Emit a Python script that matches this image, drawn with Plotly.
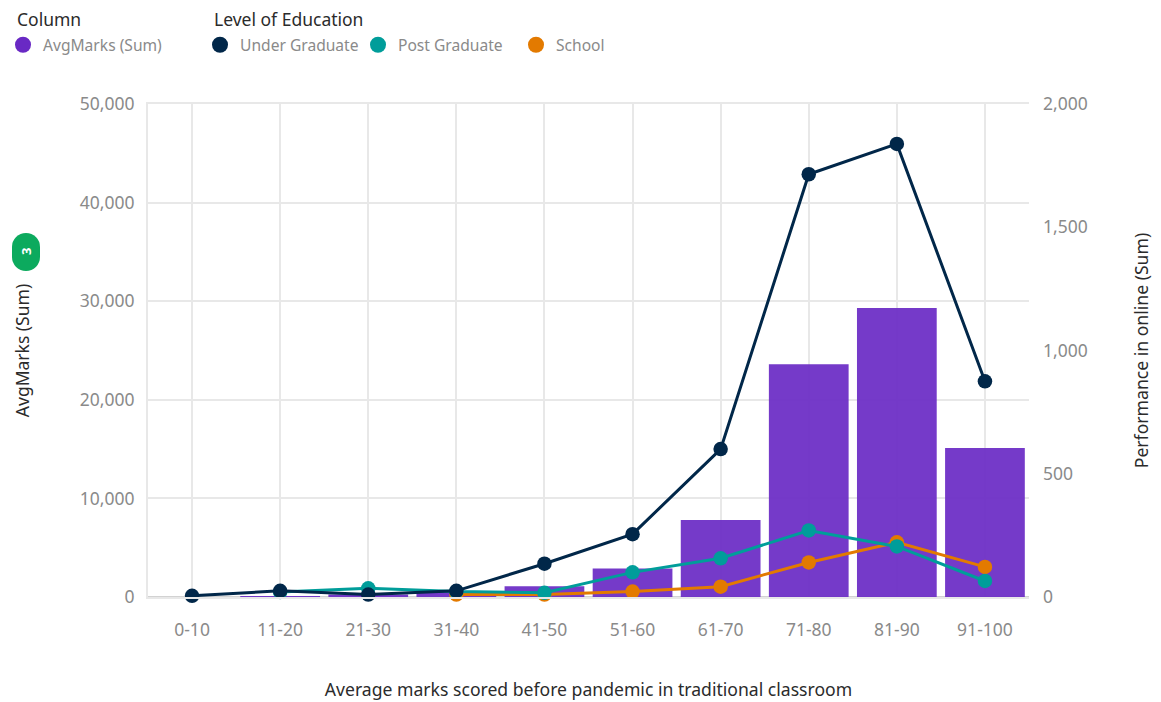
import plotly.graph_objects as go

categories = ["0-10", "11-20", "21-30", "31-40", "41-50", "51-60", "61-70", "71-80", "81-90", "91-100"]
avg_marks = [0, 100, 250, 500, 1100, 2900, 7800, 23600, 29300, 15100]
under_graduate = [5, 25, 10, 25, 135, 255, 600, 1715, 1838, 875]
post_graduate = [None, 20, 35, 22, 17, 100, 157, 270, 205, 65]
school = [None, None, None, 10, 10, 22, 42, 140, 222, 122]

PURPLE = "#6929c4"
NAVY = "#012749"
TEAL = "#009d9a"
ORANGE = "#e37a00"
GRID = "#e8e8e8"
TICK = "#8a8a8a"
DARK = "#2b2b2b"
GREEN = "#0caa5e"
FONT = "Noto Sans"
W, H = 1161, 702
L, R, T, B = 148, 132, 104, 105

fig = go.Figure()
fig.add_bar(x=categories, y=avg_marks, marker=dict(color=PURPLE, opacity=0.92, line_width=0),
            width=0.905, name="AvgMarks (Sum)", showlegend=False)

for name, vals, col in [("School", school, ORANGE),
                        ("Post Graduate", post_graduate, TEAL),
                        ("Under Graduate", under_graduate, NAVY)]:
    fig.add_scatter(x=categories, y=vals, mode="lines+markers", name=name, yaxis="y2",
                    line=dict(color=col, width=3), marker=dict(color=col, size=14.5),
                    showlegend=False, cliponaxis=False)

fig.add_scatter(x=[None], y=[None], mode="markers", name="AvgMarks (Sum)", legend="legend",
                marker=dict(color=PURPLE, size=18))
for name, col in [("Under Graduate", NAVY), ("Post Graduate", TEAL), ("School", ORANGE)]:
    fig.add_scatter(x=[None], y=[None], mode="markers", name=name, legend="legend2",
                    marker=dict(color=col, size=18))

legend_common = dict(orientation="h", xanchor="left", yanchor="top", y=0.96, yref="container",
                     xref="container", font=dict(size=15.6, color=TICK, family=FONT),
                     itemsizing="trace", bgcolor="rgba(0,0,0,0)", traceorder="normal",
                     entrywidthmode="pixels", tracegroupgap=0)

bx = (26 - L) / (W - L - R)
by = (H - B - 252) / (H - T - B)


def badge(kind, y0, y1):
    return dict(type=kind, xref="paper", yref="paper", xsizemode="pixel", ysizemode="pixel",
                xanchor=bx, yanchor=by, x0=-14, x1=14, y0=y0, y1=y1,
                fillcolor=GREEN, line_width=0, layer="above")


def legend_title(text, px):
    return dict(text=text, xref="paper", yref="paper", x=(px - L) / (W - L - R),
                y=(H - B - 19) / (H - T - B), xanchor="left", yanchor="middle", showarrow=False,
                font=dict(size=17.5, color=DARK, family=FONT))


fig.update_layout(
    width=W, height=H,
    margin=dict(l=L, r=R, t=T, b=B),
    paper_bgcolor="white", plot_bgcolor="white",
    font=dict(family=FONT, size=17.5, color=TICK),
    legend=dict(**legend_common, x=3 / W, entrywidth=130),
    legend2=dict(**legend_common, x=200 / W, entrywidth=113),
    xaxis=dict(title=dict(text="Average marks scored before pandemic in traditional classroom",
                          font=dict(size=17.6, color=DARK), standoff=44),
               type="category", categoryorder="array", categoryarray=categories,
               range=[-0.5, 9.5], showgrid=True, gridcolor=GRID, gridwidth=2,
               showline=True, linecolor=GRID, linewidth=2, mirror=True, ticks="",
               ticklabelstandoff=16, tickfont=dict(size=17.5, color=TICK), automargin=False),
    yaxis=dict(title=dict(text="AvgMarks (Sum)", font=dict(size=17.5, color=DARK), standoff=46),
               range=[0, 50000], tickvals=[0, 10000, 20000, 30000, 40000, 50000], tickformat=",",
               showgrid=True, gridcolor=GRID, gridwidth=2, zeroline=True,
               zerolinecolor="#d2d2d2", zerolinewidth=2,
               showline=True, linecolor=GRID, linewidth=2, ticks="", ticklabelstandoff=8,
               tickfont=dict(size=17.5, color=TICK), automargin=False),
    yaxis2=dict(title=dict(text="Performance in online (Sum)", font=dict(size=17.6, color=DARK), standoff=48),
                overlaying="y", side="right", range=[0, 2000],
                tickvals=[0, 500, 1000, 1500, 2000], tickformat=",", showgrid=False, zeroline=False,
                showline=False, ticks="", ticklabelstandoff=13,
                tickfont=dict(size=17.5, color=TICK), automargin=False),
    shapes=[badge("rect", -5, 5), badge("circle", -9, 19), badge("circle", -19, 9)],
    annotations=[dict(text="<b>3</b>", xref="paper", yref="paper", x=bx, y=by, showarrow=False,
                      xanchor="center", yanchor="middle", textangle=-90,
                      font=dict(size=13, color="white", family=FONT)),
                 legend_title("Column", 15), legend_title("Level of Education", 212)],
)

fig.write_html("out.html", config={"displayModeBar": False},
               post_script="document.body.style.margin='0';")
